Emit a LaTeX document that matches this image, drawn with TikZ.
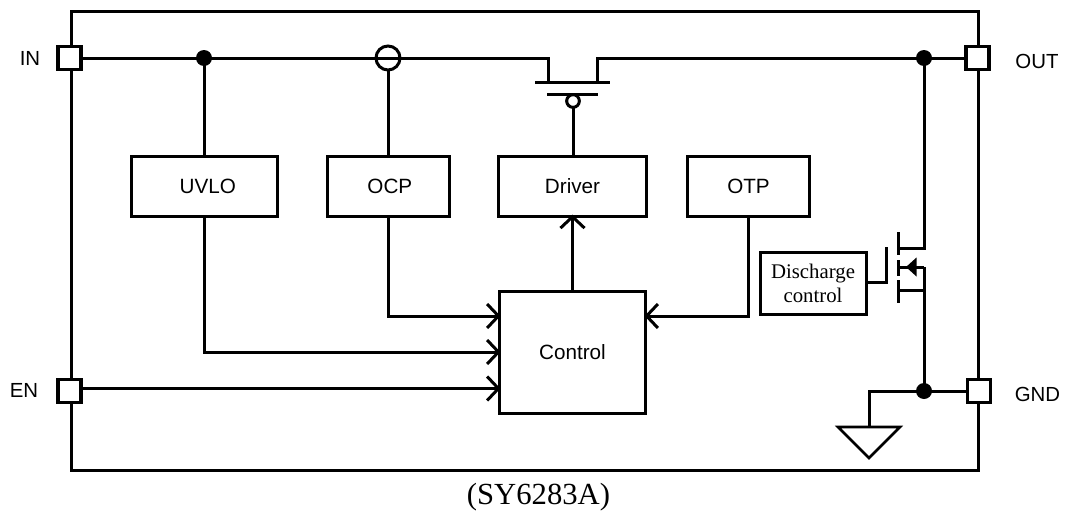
\documentclass[tikz,border=0pt]{standalone}
\usepackage{fontspec}
\setmainfont{Liberation Sans}
\newfontfamily\serifface{Liberation Serif}
\usetikzlibrary{arrows.meta}
\tikzset{x=0.75pt,y=-0.75pt,
 blockbox/.style={draw,line width=2.25pt,fill=white,inner sep=0pt,outer sep=0pt,font=\fontsize{15.5}{18}\selectfont},
 pinbox/.style={draw,line width=2.6pt,fill=white,minimum width=17pt,minimum height=17pt,inner sep=0pt,outer sep=0pt},
 pinlabel/.style={inner sep=0pt,font=\fontsize{15.3}{18}\selectfont},
 junct/.style={circle,fill=black,minimum size=12pt,inner sep=0pt,outer sep=0pt},
 openarrow/.style={-{Straight Barb[length=8.5pt,width=18pt,line width=2.25pt]},shorten >=-1pt}}
\begin{document}
\begin{tikzpicture}[line width=2.25pt]
\useasboundingbox (0,0) rectangle (1066,514);
\node[draw,line width=2.4pt,minimum width=680.6pt,minimum height=344pt,inner sep=0pt] (frame) at (525,241) {};
\node[pinbox] (in) at (69.5,58) {};
\node[pinbox] (out) at (977.5,58) {};
\node[pinbox] (en) at (69.5,391) {};
\node[pinbox] (gnd) at (979,391) {};
\node[pinlabel] at (30,58) {IN};
\node[pinlabel] at (1037,61.5) {OUT};
\node[pinlabel] at (24,390.5) {EN};
\node[pinlabel] at (1037.5,394) {GND};
\node[blockbox,minimum width=110pt,minimum height=45pt] (uvlo) at (204.5,186) {\hspace{5pt}UVLO};
\node[blockbox,minimum width=92pt,minimum height=45pt] (ocp) at (388.5,186) {\hspace{2pt}OCP};
\node[blockbox,minimum width=111pt,minimum height=45pt] (driver) at (572.5,186) {Driver};
\node[blockbox,minimum width=92pt,minimum height=45pt] (otp) at (748.5,186) {OTP};
\node[blockbox,minimum width=110pt,minimum height=91pt] (control) at (572.5,352.5) {Control};
\node[blockbox,minimum width=79.5pt,minimum height=46pt,font=\serifface\fontsize{15.6}{17.5}\selectfont,align=center] (dis) at (813,283.5) {Discharge\\control};
\node[inner sep=0pt,font=\serifface\fontsize{23}{25}\selectfont] (cap) at (538.5,497) {(SY6283A)};
\node[junct] (j1) at (204,58) {};
\node[junct] (j2) at (924,58) {};
\node[junct] (j3) at (924,391) {};
\node[circle,draw,line width=2.25pt,minimum size=18pt,inner sep=0pt,outer sep=0pt] (sense) at (388,58) {};
\node[circle,draw,line width=2.25pt,fill=white,minimum size=9.5pt,inner sep=0pt,outer sep=0pt] (bub) at (573,101) {};
\coordinate (d) at (548,82);
\coordinate (s) at (597,82);
\draw (in) -- (548,58) -- (d);
\draw (535,82) -- (610,82);
\draw (547,94) -- (598,94);
\draw (s) -- (597,58) -- (j2.center) -- (out);
\draw (bub) -- (573,155);
\draw (j1.center) -- (204,155);
\draw (sense) -- (388,155);
\draw[openarrow] (204,216) |- (control.west |- 0,352);
\draw[openarrow] (388,216) |- (control.west |- 0,316);
\draw[openarrow] (en.east |- 0,388.5) -- (control.west |- 0,388.5);
\draw[openarrow] (otp.south) |- (control.east |- 0,316);
\draw[openarrow] (control.north) -- (driver.south);
\draw (j2.center) -- (924,248) -- (898,248);
\draw (898,232) -- (898,255);
\draw (898,260) -- (898,276);
\draw (898,280) -- (898,303);
\draw (898,267) -- (924,267);
\fill (906,267) -- (916.5,257.5) -- (916.5,276.5) -- cycle;
\draw (898,290.5) -- (924,290.5);
\draw (924,267) -- (j3.center);
\draw (dis.east |- 0,282) -- (886,282) -- (886,247);
\draw (gnd) -- (j3.center) -- (869,391) -- (869,427);
\draw[line width=2pt,line join=miter] (838,427) -- (900,427) -- (869,458) -- cycle;
\end{tikzpicture}
\end{document}
